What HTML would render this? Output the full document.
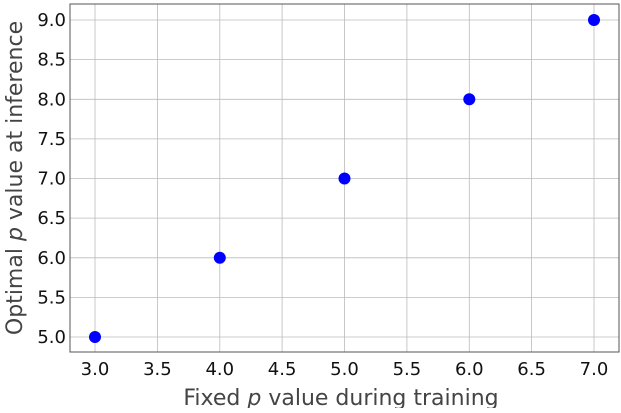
<!DOCTYPE html>
<html><head><style>body{margin:0;background:#fff}</style></head><body>
<svg width="621" height="408" xmlns="http://www.w3.org/2000/svg" font-family="DejaVu Sans, sans-serif">
<rect width="621" height="408" fill="#fff"/>
<g stroke="#bbbbbb" stroke-width="0.8">
<line x1="95" y1="4" x2="95" y2="352"/><line x1="157.4" y1="4" x2="157.4" y2="352"/><line x1="219.8" y1="4" x2="219.8" y2="352"/><line x1="282.1" y1="4" x2="282.1" y2="352"/><line x1="344.5" y1="4" x2="344.5" y2="352"/><line x1="406.9" y1="4" x2="406.9" y2="352"/><line x1="469.3" y1="4" x2="469.3" y2="352"/><line x1="531.6" y1="4" x2="531.6" y2="352"/><line x1="594" y1="4" x2="594" y2="352"/>
<line x1="70" y1="20" x2="619" y2="20"/><line x1="70" y1="59.6" x2="619" y2="59.6"/><line x1="70" y1="99.3" x2="619" y2="99.3"/><line x1="70" y1="138.9" x2="619" y2="138.9"/><line x1="70" y1="178.5" x2="619" y2="178.5"/><line x1="70" y1="218.1" x2="619" y2="218.1"/><line x1="70" y1="257.8" x2="619" y2="257.8"/><line x1="70" y1="297.4" x2="619" y2="297.4"/><line x1="70" y1="337" x2="619" y2="337"/>
</g>
<rect x="70" y="4" width="549" height="348" fill="none" stroke="#555" stroke-width="1"/>
<g fill="#0000ff"><circle cx="95" cy="337" r="6"/><circle cx="219.8" cy="257.8" r="6"/><circle cx="344.5" cy="178.5" r="6"/><circle cx="469.3" cy="99.3" r="6"/><circle cx="594" cy="20" r="6"/></g>
<g font-size="18" fill="#111" text-anchor="middle">
<text x="95" y="375">3.0</text><text x="157.4" y="375">3.5</text><text x="219.8" y="375">4.0</text><text x="282.1" y="375">4.5</text><text x="344.5" y="375">5.0</text><text x="406.9" y="375">5.5</text><text x="469.3" y="375">6.0</text><text x="531.6" y="375">6.5</text><text x="594" y="375">7.0</text>
</g>
<g font-size="18" fill="#111" text-anchor="end">
<text x="66" y="26">9.0</text><text x="66" y="65.6">8.5</text><text x="66" y="105.3">8.0</text><text x="66" y="144.9">7.5</text><text x="66" y="184.5">7.0</text><text x="66" y="224.1">6.5</text><text x="66" y="263.8">6.0</text><text x="66" y="303.4">5.5</text><text x="66" y="343">5.0</text>
</g>
<text x="341" y="405" font-size="22" fill="#444" text-anchor="middle">Fixed <tspan font-style="italic">p</tspan> value during training</text>
<text transform="translate(22,178) rotate(-90)" font-size="22" fill="#444" text-anchor="middle">Optimal <tspan font-style="italic">p</tspan> value at inference</text>
</svg>
</body></html>
